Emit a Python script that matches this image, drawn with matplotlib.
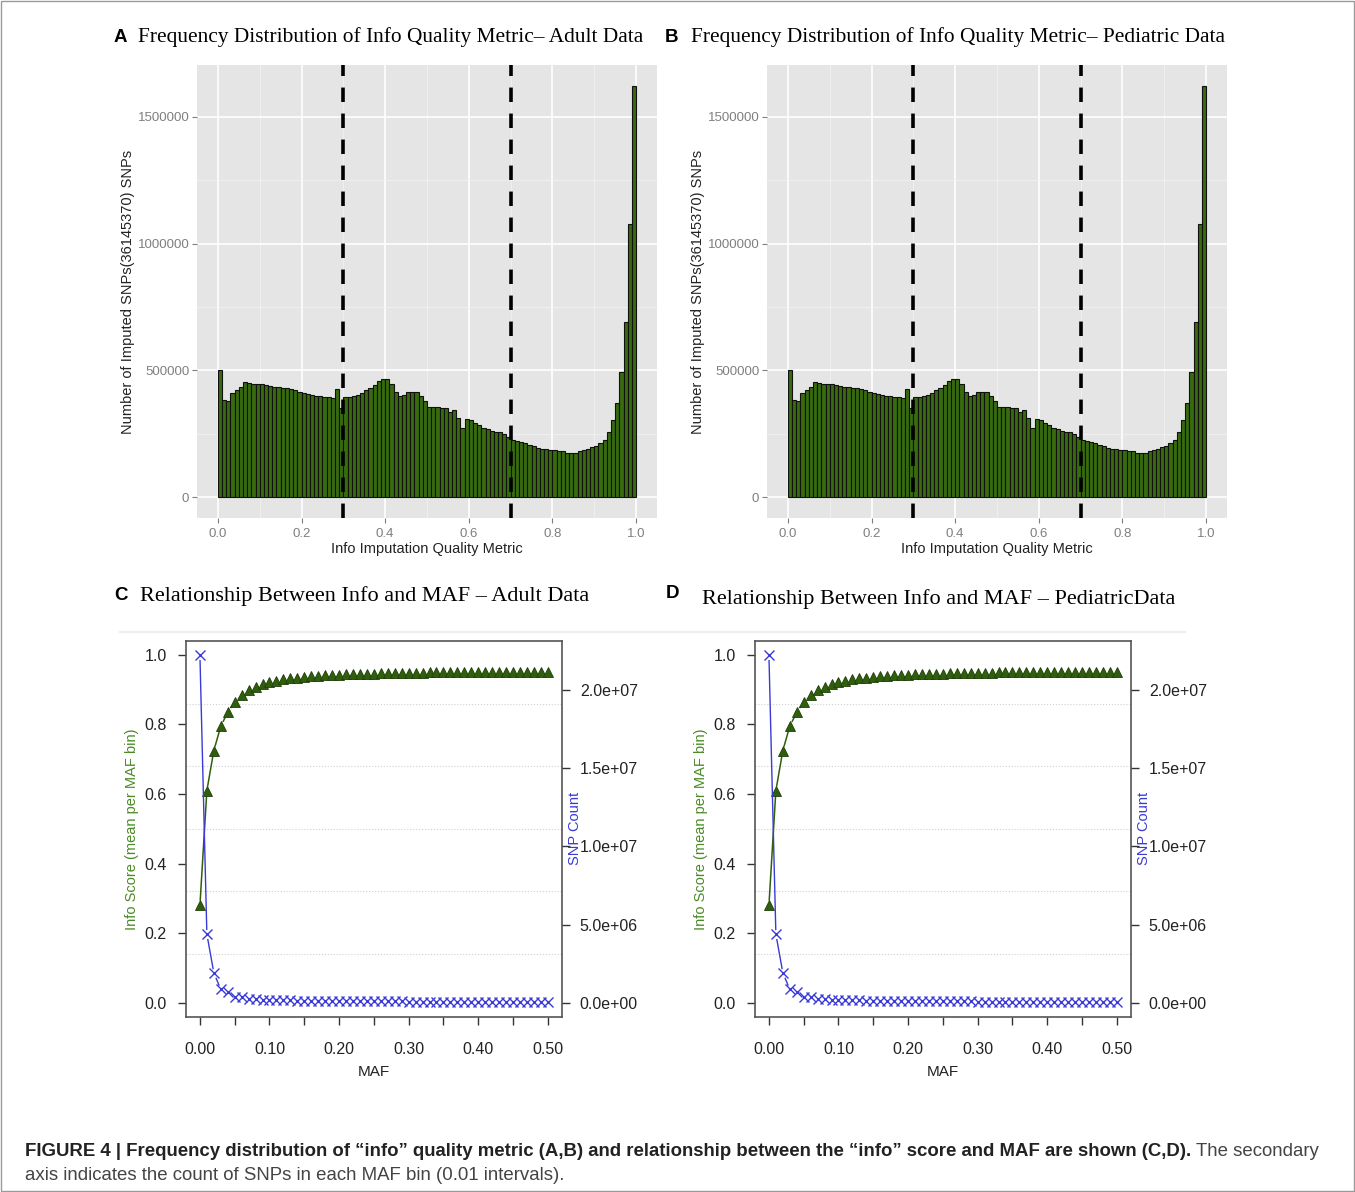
import numpy as np
import matplotlib
matplotlib.use('Agg')
import matplotlib.pyplot as plt
from matplotlib.patches import Rectangle
from matplotlib.lines import Line2D

# Histogram of info metric, bins of 0.01 from 0 to 1 (counts per bin)
bin_edges = np.round(np.arange(0, 1.0, 0.01), 2)
adult_counts = [
    503e3, 385e3, 378e3, 412e3, 422e3, 435e3, 453e3, 449e3, 446e3, 446e3,
    445e3, 443e3, 439e3, 436e3, 435e3, 432e3, 430e3, 426e3, 422e3, 416e3,
    411e3, 407e3, 403e3, 401e3, 399e3, 396e3, 395e3, 393e3, 426e3, 354e3,
    395e3, 397e3, 401e3, 405e3, 412e3, 422e3, 432e3, 443e3, 457e3, 466e3,
    466e3, 446e3, 416e3, 399e3, 403e3, 415e3, 416e3, 416e3, 399e3, 378e3,
    358e3, 355e3, 355e3, 354e3, 351e3, 335e3, 345e3, 314e3, 273e3, 308e3,
    304e3, 295e3, 284e3, 273e3, 268e3, 262e3, 259e3, 257e3, 249e3, 239e3,
    227e3, 222e3, 218e3, 214e3, 208e3, 203e3, 195e3, 189e3, 189e3, 186e3,
    186e3, 184e3, 181e3, 176e3, 173e3, 176e3, 181e3, 186e3, 192e3, 197e3,
    203e3, 214e3, 227e3, 257e3, 304e3, 372e3, 493e3, 689e3, 1078e3, 1622e3,
]
pediatric_counts = list(adult_counts)
cutoffs = [0.3, 0.7]

# Mean info score and SNP count per MAF bin
maf = np.round(np.arange(0, 0.51, 0.01), 2)
adult_info = [
    0.280, 0.610, 0.725, 0.795, 0.835, 0.865, 0.885, 0.900, 0.909, 0.916,
    0.922, 0.926, 0.930, 0.933, 0.935, 0.937, 0.939, 0.940, 0.941, 0.942,
    0.943, 0.944, 0.945, 0.945, 0.946, 0.946, 0.947, 0.947, 0.948, 0.948,
    0.948, 0.949, 0.949, 0.950, 0.950, 0.950, 0.950, 0.951, 0.951, 0.951,
    0.951, 0.951, 0.952, 0.952, 0.952, 0.952, 0.952, 0.952, 0.952, 0.952,
    0.951,
]
adult_snp_count = [
    2.225e7, 4.39e6, 1.92e6, 8.6e5, 6.6e5, 3.8e5, 3.5e5, 2.6e5, 2.2e5, 2.0e5,
    1.8e5, 1.7e5, 1.6e5, 1.5e5, 1.45e5, 1.4e5, 1.35e5, 1.3e5, 1.25e5, 1.2e5,
    1.15e5, 1.1e5, 1.06e5, 1.02e5, 9.8e4, 9.5e4, 9.2e4, 8.9e4, 8.6e4, 8.3e4,
    8.0e4, 7.7e4, 7.4e4, 7.1e4, 6.8e4, 6.5e4, 6.2e4, 6.0e4, 5.8e4, 5.6e4,
    5.4e4, 5.2e4, 5.0e4, 4.8e4, 4.6e4, 4.4e4, 4.2e4, 4.0e4, 3.8e4, 3.6e4,
    3.4e4,
]
pediatric_info = list(adult_info)
pediatric_snp_count = list(adult_snp_count)

W, H = 1355, 1192
fig = plt.figure(figsize=(W / 100, H / 100), dpi=100)
fig.patch.set_facecolor('white')

SANS = 'Liberation Sans'
SERIF = 'Liberation Serif'
BAR_FILL = '#386a0e'
GREEN = '#2f5f0c'
GREEN_LBL = '#4a8a25'
BLUE = '#3a3ad6'


def fx(px):
    return px / W


def fy(py):
    return 1 - py / H


def hist_panel(left_px, counts):
    ax = fig.add_axes([fx(left_px), fy(518), 460 / W, 453 / H])
    ax.set_facecolor('#E5E5E5')
    ax.bar(bin_edges, counts, width=0.01, align='edge', color=BAR_FILL,
           edgecolor='#111111', linewidth=0.8, zorder=3)
    for c in cutoffs:
        ax.axvline(c, color='black', linewidth=2.6, dashes=(4, 3.2), zorder=4)
    ax.set_xlim(-0.05, 1.05)
    top = max(counts)
    ax.set_ylim(-0.05 * top, 1.05 * top)
    ax.set_xticks(np.arange(0, 1.01, 0.2))
    ax.set_xticks(np.arange(0.1, 1.0, 0.2), minor=True)
    ax.set_yticks([0, 500000, 1000000, 1500000])
    ax.set_yticks([250000, 750000, 1250000], minor=True)
    ax.set_xticklabels(['0.0', '0.2', '0.4', '0.6', '0.8', '1.0'])
    ax.set_yticklabels(['0', '500000', '1000000', '1500000'])
    ax.grid(which='major', color='white', linewidth=1.2, zorder=1)
    ax.grid(which='minor', color='#F2F2F2', linewidth=0.6, zorder=1)
    ax.set_axisbelow(True)
    for s in ax.spines.values():
        s.set_visible(False)
    ax.tick_params(which='major', length=3.5, color='#7F7F7F', labelcolor='#7F7F7F',
                   labelsize=9.5, pad=2)
    ax.tick_params(axis='x', pad=3.5)
    ax.tick_params(which='minor', length=0)
    for lab in ax.get_xticklabels() + ax.get_yticklabels():
        lab.set_family(SANS)
    ax.set_xlabel('Info Imputation Quality Metric', family=SANS, fontsize=10.5,
                  color='#222222', labelpad=2)
    ax.set_ylabel('Number of Imputed SNPs(36145370) SNPs', family=SANS,
                  fontsize=10.5, color='#222222', labelpad=4)
    ax.yaxis.set_label_coords(-0.134, 0.5)
    return ax


def maf_panel(left_px, info, count):
    ax = fig.add_axes([fx(left_px), fy(1016.7), 375.7 / W, 375.7 / H])
    ax.set_xlim(-0.02, 0.52)
    ax.set_ylim(-0.04, 1.04)
    for g in np.linspace(-0.04, 1.04, 7)[1:-1]:
        ax.axhline(g, color='#D0D0D0', linewidth=0.8, linestyle=':', zorder=0)
    ax.plot(maf, info, color=GREEN, linewidth=1.1, zorder=1)
    ax.plot(maf, info, linestyle='none', marker='o', markersize=7,
            markerfacecolor='white', markeredgecolor='none', zorder=2)
    ax.plot(maf, info, linestyle='none', marker='^', markersize=6.8,
            markerfacecolor=GREEN, markeredgecolor='#1f3f08',
            markeredgewidth=0.6, zorder=3)
    ax.set_xticks(np.arange(0, 0.501, 0.05))
    ax.set_xticklabels(['0.00', '', '0.10', '', '0.20', '', '0.30', '', '0.40',
                        '', '0.50'])
    ax.set_yticks(np.arange(0, 1.01, 0.2))
    ax.set_yticklabels(['0.0', '0.2', '0.4', '0.6', '0.8', '1.0'])
    ax.tick_params(length=6, width=1, color='#333333', labelsize=11.5,
                   labelcolor='#222222')
    ax.tick_params(axis='x', pad=12)
    ax.tick_params(axis='y', pad=8)
    for s in ax.spines.values():
        s.set_color('#555555')
        s.set_linewidth(1.2)
    for lab in ax.get_xticklabels() + ax.get_yticklabels():
        lab.set_family(SANS)
    ax.set_xlabel('MAF', family=SANS, fontsize=11, color='#222222', labelpad=6)
    ax.set_ylabel('Info Score (mean per MAF bin)', family=SANS, fontsize=10.5,
                  color=GREEN_LBL, labelpad=4)

    ax2 = ax.twinx()
    top = max(count)
    ax2.set_ylim(-0.04 * top, 1.04 * top)
    ax2.plot(maf, count, color=BLUE, linewidth=1.0, zorder=1)
    ax2.plot(maf, count, linestyle='none', marker='o', markersize=6.5,
             markerfacecolor='white', markeredgecolor='none', zorder=2)
    ax2.plot(maf, count, linestyle='none', marker='x', markersize=6.5,
             markeredgecolor=BLUE, markeredgewidth=1.0, zorder=3)
    ax2.set_yticks([0, 5e6, 1e7, 1.5e7, 2e7])
    ax2.set_yticklabels(['0.0e+00', '5.0e+06', '1.0e+07', '1.5e+07', '2.0e+07'])
    ax2.tick_params(length=6, width=1, color='#333333', labelsize=11.5,
                    labelcolor='#222222', pad=7)
    for lab in ax2.get_yticklabels():
        lab.set_family(SANS)
    for s in ax2.spines.values():
        s.set_visible(False)
    ax2.set_ylabel('SNP Count', family=SANS, fontsize=10.5, color=BLUE)
    ax2.yaxis.set_label_coords(1.017, 0.5)
    return ax, ax2


hist_panel(197, adult_counts)
hist_panel(767, pediatric_counts)
maf_panel(186, adult_info, adult_snp_count)
maf_panel(755, pediatric_info, pediatric_snp_count)

# panel titles
fig.text(fx(114), fy(37), 'A', family=SANS, weight='bold', fontsize=13.5,
         va='center', ha='left')
fig.text(fx(138), fy(37), 'Frequency Distribution of Info Quality Metric– Adult Data',
         family=SERIF, fontsize=15.4, va='center', ha='left')
fig.text(fx(665), fy(37), 'B', family=SANS, weight='bold', fontsize=13.5,
         va='center', ha='left')
fig.text(fx(691), fy(37), 'Frequency Distribution of Info Quality Metric– Pediatric Data',
         family=SERIF, fontsize=15.4, va='center', ha='left')
fig.text(fx(114), fy(595), 'C', family=SANS, weight='bold', fontsize=13.5,
         va='center', ha='left')
fig.text(fx(140), fy(596), 'Relationship Between Info and MAF – Adult Data',
         family=SERIF, fontsize=16, va='center', ha='left')
fig.text(fx(666), fy(594), 'D', family=SANS, weight='bold', fontsize=13.5,
         va='center', ha='left')
fig.text(fx(702), fy(599), 'Relationship Between Info and MAF – PediatricData',
         family=SERIF, fontsize=16, va='center', ha='left')

# faint separator under the C/D titles
fig.add_artist(Line2D([fx(120), fx(1185)], [fy(632), fy(632)],
                      color='#EEEEEE', linewidth=1.5))

# caption
cap_size = 13.45
bold_part = fig.text(fx(25), fy(1152),
                     'FIGURE 4 | Frequency distribution of \u201cinfo\u201d quality metric (A,B) '
                     'and relationship between the \u201cinfo\u201d score and MAF are shown (C,D).',
                     family=SANS, weight='bold', fontsize=cap_size, va='center',
                     ha='left', color='#222222')
fig.canvas.draw()
bb = bold_part.get_window_extent()
fig.text(bb.x1 / W + fx(5), fy(1152), 'The secondary', family=SANS,
         fontsize=cap_size, va='center', ha='left', color='#444444')
fig.text(fx(25), fy(1176),
         'axis indicates the count of SNPs in each MAF bin (0.01 intervals).',
         family=SANS, fontsize=cap_size, va='center', ha='left', color='#444444')

# outer frame
fig.add_artist(Rectangle((0.0005, 0.0005), 0.999, 0.999, transform=fig.transFigure,
                         fill=False, edgecolor='#9A9A9A', linewidth=1.0))

fig.savefig('out.png', dpi=100)
